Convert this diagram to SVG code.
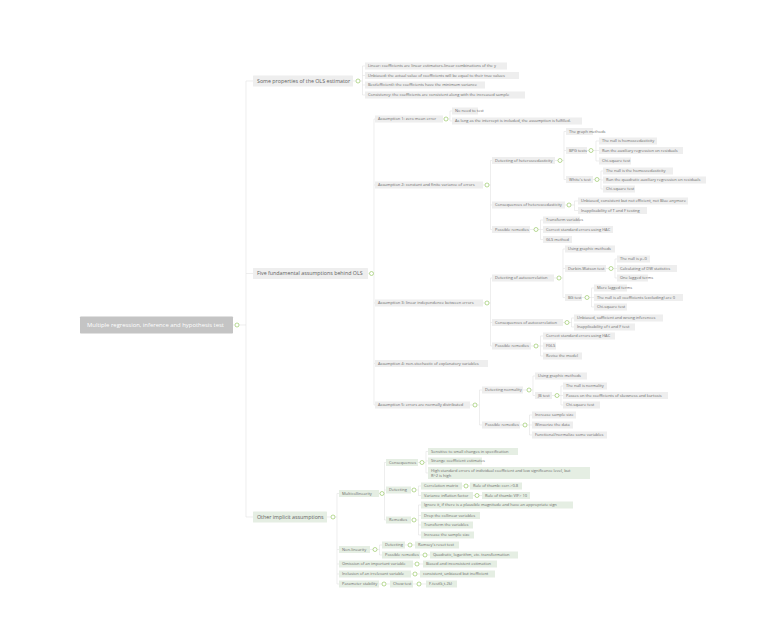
<svg xmlns="http://www.w3.org/2000/svg" width="780" height="621" viewBox="0 0 780 621">
<style>
rect{fill:#eeeeee}
.gr rect{fill:#e5eee3}
text{font-family:"Open Sans","Liberation Sans",sans-serif;font-size:4px;fill:#6a6a6a}
.l1 text{font-size:5.3px;fill:#616161}
.root rect{fill:#c4c4c4}
.root text{font-size:5.9px;fill:#ffffff}
circle{fill:#ffffff;stroke:#8cc152;stroke-width:0.6}
#connectors path{fill:none;stroke:#e2e2e2;stroke-width:0.6}
</style>
<rect x="0" y="0" width="780" height="621" style="fill:#ffffff"/>
<g id="connectors">
<path d="M233 325H235M239 325H246M246 81V517M246 81H253M246 273.5H253M246 517H253"/>
<path d="M353 81H356M360 81H362.5M362.5 66V95M362.5 66H365M362.5 75.5H365M362.5 85H365M362.5 95H365"/>
<path d="M368 273.5H369.5M373.5 273.5H374M374 119V405M374 119H375M374 185H375M374 303H375M374 363.5H375M374 405H375"/>
<path d="M443 119H444M448 119H450M450 111V121M450 111H452M450 121H452"/>
<path d="M483 185H485M489 185H490.5M490.5 160.5V229.5M490.5 160.5H492M490.5 205H492M490.5 229.5H492"/>
<path d="M555 160.5H558M562 160.5H564M564 131.5V179.5M564 131.5H566M564 150.5H566M564 179.5H566"/>
<path d="M587 150.5H589M593 150.5H596M596 141V161M596 141H599M596 150.5H599M596 161H599"/>
<path d="M593 179.5H595M599 179.5H601M601 171V189M601 171H603M601 180H603M601 189H603"/>
<path d="M565 205H567M571 205H574.5M574.5 201V210.5M574.5 201H578M574.5 210.5H578"/>
<path d="M530 229.5H534M538 229.5H540.5M540.5 220V239.5M540.5 220H543M540.5 229.5H543M540.5 239.5H543"/>
<path d="M483 303H485M489 303H490.5M490.5 278V346M490.5 278H492M490.5 322.5H492M490.5 346H492"/>
<path d="M554 278H557M561 278H563M563 249V297.5M563 249H565M563 268.5H565M563 297.5H565"/>
<path d="M606 268.5H609M613 268.5H615M615 259V278M615 259H617M615 268.5H617M615 278H617"/>
<path d="M582 297.5H585M589 297.5H591.5M591.5 288V307M591.5 288H594M591.5 297.5H594M591.5 307H594"/>
<path d="M563 322.5H565M569 322.5H571.5M571.5 318V327M571.5 318H574M571.5 327H574"/>
<path d="M531 346H534M538 346H540.5M540.5 336V356M540.5 336H543M540.5 346H543M540.5 356H543"/>
<path d="M470 405H473M477 405H479.5M479.5 390V425M479.5 390H482M479.5 425H482"/>
<path d="M523 390H527M531 390H533M533 376V395.5M533 376H535M533 395.5H535"/>
<path d="M552 395.5H555M559 395.5H561M561 386V405M561 386H563M561 395.5H563M561 405H563"/>
<path d="M520 425H523M527 425H529.5M529.5 415V435M529.5 415H532M529.5 425H532M529.5 435H532"/>
<path d="M327 517H331M335 517H337M337 493.5V584M337 493.5H339M337 549.5H339M337 564H339M337 574H339M337 584H339"/>
<path d="M379 493.5H380M384 493.5H384.5M384.5 462.5V520M384.5 462.5H386M384.5 490H386M384.5 520H386"/>
<path d="M418 462.5H420M424 462.5H426M426 451.5V473M426 451.5H428M426 461H428M426 473H428"/>
<path d="M411 490H412M416 490H418.5M418.5 486V495.5M418.5 486H421M418.5 495.5H421"/>
<path d="M462 486H464M468 486H470"/>
<path d="M473 495.5H475M479 495.5H482"/>
<path d="M411 520H412M416 520H418.5M418.5 505V535M418.5 505H421M418.5 515.5H421M418.5 525H421M418.5 535H421"/>
<path d="M370 549.5H373M377 549.5H379.5M379.5 545V555M379.5 545H382M379.5 555H382"/>
<path d="M405 545H408M412 545H415"/>
<path d="M420 555H423M427 555H430"/>
<path d="M413 564H415M419 564H423"/>
<path d="M411 574H413M417 574H420"/>
<path d="M379 584H382M386 584H390"/>
<path d="M413 584H417M421 584H426"/>
</g>

<g id="n-root" class="root"><rect x="80" y="316.5" width="153" height="17" rx="0.8"/><text x="87" y="327.1">Multiple regression, inference and hypothesis test</text><circle cx="237" cy="325" r="2"/></g>

<g id="n-props" class="l1"><rect x="253" y="75.5" width="100" height="11" rx="0.6"/><text x="257" y="82.8">Some properties of the OLS estimator</text><circle cx="358" cy="81" r="2"/></g>
<g id="n-p1"><rect x="365" y="62.5" width="142" height="7"/><text x="368" y="67.4">Linear: coefficients are linear estimators-linear combinations of the y</text></g>
<g id="n-p2"><rect x="365" y="72" width="154" height="7"/><text x="368" y="76.9">Unbiased: the actual value of coefficients will be equal to their true values</text></g>
<g id="n-p3"><rect x="365" y="81.5" width="120" height="7"/><text x="368" y="86.4">Best(efficient): the coefficients have the minimum variance</text></g>
<g id="n-p4"><rect x="365" y="91.5" width="160" height="7"/><text x="368" y="96.4">Consistency:  the coefficients are consistent along with the increased sample</text></g>

<g id="n-five" class="l1"><rect x="253" y="268" width="115" height="11" rx="0.6"/><text x="257" y="275.3">Five fundamental assumptions behind OLS</text><circle cx="371.5" cy="273.5" r="2"/></g>

<g id="n-a1"><rect x="375" y="115.5" width="68" height="7"/><text x="378" y="120.4">Assumption 1: zero mean error</text><circle cx="446" cy="119" r="2"/></g>
<g id="n-a1-1"><rect x="452" y="107.5" width="26" height="7"/><text x="455" y="112.4">No need to test</text></g>
<g id="n-a1-2"><rect x="452" y="117.5" width="130" height="7"/><text x="455" y="122.4">As long as the intercept is included, the assumption is fulfilled.</text></g>

<g id="n-a2"><rect x="375" y="181.5" width="108" height="7"/><text x="378" y="186.4">Assumption 2: constant and finite variance of errors</text><circle cx="487" cy="185" r="2"/></g>
<g id="n-dh"><rect x="492" y="157" width="63" height="7"/><text x="495" y="161.9">Detecting of heteroscedasticity</text><circle cx="560" cy="160.5" r="2"/></g>
<g id="n-dh1"><rect x="566" y="128" width="27" height="7"/><text x="569" y="132.9">The graph methods</text></g>
<g id="n-bpg"><rect x="566" y="147" width="21" height="7"/><text x="569" y="151.9">BPG tests</text><circle cx="591" cy="150.5" r="2"/></g>
<g id="n-bpg1"><rect x="599" y="137.5" width="58" height="7"/><text x="602" y="142.4">The null is homoscedasticity</text></g>
<g id="n-bpg2"><rect x="599" y="147" width="84" height="7"/><text x="602" y="151.9">Run the auxiliary regression on residuals</text></g>
<g id="n-bpg3"><rect x="599" y="157.5" width="32" height="7"/><text x="602" y="162.4">Chi-square test</text></g>
<g id="n-white"><rect x="566" y="176" width="27" height="7"/><text x="569" y="180.9">White's test</text><circle cx="597" cy="179.5" r="2"/></g>
<g id="n-w1"><rect x="603" y="167.5" width="70" height="7"/><text x="606" y="172.4">The null is the homoscedasticity</text></g>
<g id="n-w2"><rect x="603" y="176.5" width="103" height="7"/><text x="606" y="181.4">Run the quadratic auxiliary regression on residuals</text></g>
<g id="n-w3"><rect x="603" y="185.5" width="32" height="7"/><text x="606" y="190.4">Chi-square test</text></g>
<g id="n-ch"><rect x="492" y="201.5" width="73" height="7"/><text x="495" y="206.4">Consequences of heteroscedasticity</text><circle cx="569" cy="205" r="2"/></g>
<g id="n-ch1"><rect x="578" y="197.5" width="110" height="7"/><text x="581" y="202.4">Unbiased, consistent but not efficient, not Blue anymore</text></g>
<g id="n-ch2"><rect x="578" y="207" width="69" height="7"/><text x="581" y="211.9">Inapplicability of T and F testing</text></g>
<g id="n-r1"><rect x="492" y="226" width="38" height="7"/><text x="495" y="230.9">Possible remedies</text><circle cx="536" cy="229.5" r="2"/></g>
<g id="n-r1a"><rect x="543" y="216.5" width="37" height="7"/><text x="546" y="221.4">Transform variables</text></g>
<g id="n-r1b"><rect x="543" y="226" width="70" height="7"/><text x="546" y="230.9">Correct standard errors using HAC</text></g>
<g id="n-r1c"><rect x="543" y="236" width="29" height="7"/><text x="546" y="240.9">GLS method</text></g>

<g id="n-a3"><rect x="375" y="299.5" width="108" height="7"/><text x="378" y="304.4">Assumption 3: linear independence between errors</text><circle cx="487" cy="303" r="2"/></g>
<g id="n-da"><rect x="492" y="274.5" width="62" height="7"/><text x="495" y="279.4">Detecting of autocorrelation</text><circle cx="559" cy="278" r="2"/></g>
<g id="n-da1"><rect x="565" y="245.5" width="50" height="7"/><text x="568" y="250.4">Using graphic methods</text></g>
<g id="n-dw"><rect x="565" y="265" width="41" height="7"/><text x="568" y="269.9">Durbin-Watson test</text><circle cx="611" cy="268.5" r="2"/></g>
<g id="n-dw1"><rect x="617" y="255.5" width="33" height="7"/><text x="620" y="260.4">The null is ρ=0</text></g>
<g id="n-dw2"><rect x="617" y="265" width="60" height="7"/><text x="620" y="269.9">Calculating of DW statistics</text></g>
<g id="n-dw3"><rect x="617" y="274.5" width="31" height="7"/><text x="620" y="279.4">One lagged terms</text></g>
<g id="n-bg"><rect x="565" y="294" width="17" height="7"/><text x="568" y="298.9">BG test</text><circle cx="587" cy="297.5" r="2"/></g>
<g id="n-bg1"><rect x="594" y="284.5" width="33" height="7"/><text x="597" y="289.4">More lagged terms</text></g>
<g id="n-bg2"><rect x="594" y="294" width="89" height="7"/><text x="597" y="298.9">The null is all coefficients (excluding) are 0</text></g>
<g id="n-bg3"><rect x="594" y="303.5" width="33" height="7"/><text x="597" y="308.4">Chi-square test</text></g>
<g id="n-ca"><rect x="492" y="319" width="71" height="7"/><text x="495" y="323.9">Consequences of autocorrelation</text><circle cx="567" cy="322.5" r="2"/></g>
<g id="n-ca1"><rect x="574" y="314.5" width="89" height="7"/><text x="577" y="319.4">Unbiased, sufficient and wrong inferences</text></g>
<g id="n-ca2"><rect x="574" y="323.5" width="61" height="7"/><text x="577" y="328.4">Inapplicability of t and F test</text></g>
<g id="n-r2"><rect x="492" y="342.5" width="39" height="7"/><text x="495" y="347.4">Possible remedies</text><circle cx="536" cy="346" r="2"/></g>
<g id="n-r2a"><rect x="543" y="332.5" width="72" height="7"/><text x="546" y="337.4">Correct standard errors using HAC</text></g>
<g id="n-r2b"><rect x="543" y="342.5" width="13" height="7"/><text x="546" y="347.4">FGLS</text></g>
<g id="n-r2c"><rect x="543" y="352.5" width="39" height="7"/><text x="546" y="357.4">Revise the model</text></g>

<g id="n-a4"><rect x="375" y="360" width="113" height="7"/><text x="378" y="364.9">Assumption 4: non-stochastic of explanatory variables</text></g>

<g id="n-a5"><rect x="375" y="401.5" width="95" height="7"/><text x="378" y="406.4">Assumption 5: errors are normally distributed</text><circle cx="475" cy="405" r="2"/></g>
<g id="n-dn"><rect x="482" y="386.5" width="41" height="7"/><text x="485" y="391.4">Detecting normality</text><circle cx="529" cy="390" r="2"/></g>
<g id="n-dn1"><rect x="535" y="372.5" width="52" height="7"/><text x="538" y="377.4">Using graphic methods</text></g>
<g id="n-jb"><rect x="535" y="392" width="17" height="7"/><text x="538" y="396.9">JB test</text><circle cx="557" cy="395.5" r="2"/></g>
<g id="n-jb1"><rect x="563" y="382.5" width="44" height="7"/><text x="566" y="387.4">The null is normality</text></g>
<g id="n-jb2"><rect x="563" y="392" width="105" height="7"/><text x="566" y="396.9">Passes on the coefficients of skewness and kurtosis</text></g>
<g id="n-jb3"><rect x="563" y="401.5" width="37" height="7"/><text x="566" y="406.4">Chi-square test</text></g>
<g id="n-r3"><rect x="482" y="421.5" width="38" height="7"/><text x="485" y="426.4">Possible remedies</text><circle cx="525" cy="425" r="2"/></g>
<g id="n-r3a"><rect x="532" y="411.5" width="44" height="7"/><text x="535" y="416.4">Increase sample size</text></g>
<g id="n-r3b"><rect x="532" y="421.5" width="41" height="7"/><text x="535" y="426.4">Winsorize the data</text></g>
<g id="n-r3c"><rect x="532" y="431.5" width="75" height="7"/><text x="535" y="436.4">Functional/normalize some variables</text></g>

<g id="n-other" class="l1 gr"><rect x="253" y="511.5" width="74" height="11" rx="0.6"/><text x="257" y="518.8">Other implicit assumptions</text><circle cx="333" cy="517" r="2"/></g>
<g class="gr">
<g id="n-mc"><rect x="339" y="490" width="40" height="7"/><text x="342" y="494.9">Multicollinearity</text><circle cx="382" cy="493.5" r="2"/></g>
<g id="n-mcc"><rect x="386" y="459" width="32" height="7"/><text x="389" y="463.9">Consequences</text><circle cx="422" cy="462.5" r="2"/></g>
<g id="n-mcc1"><rect x="428" y="448" width="90" height="7"/><text x="431" y="452.9">Sensitive to small changes in specification</text></g>
<g id="n-mcc2"><rect x="428" y="457.5" width="54" height="7"/><text x="431" y="462.4">Strange coefficient estimates</text></g>
<g id="n-mcc3"><rect x="428" y="467" width="162" height="12"/><text x="431" y="471.6">High standard errors of individual coefficient and low significance level, but</text><text x="431" y="476.6">R^2 is high</text></g>
<g id="n-mcd"><rect x="386" y="486.5" width="25" height="7"/><text x="389" y="491.4">Detecting</text><circle cx="414" cy="490" r="2"/></g>
<g id="n-cm"><rect x="421" y="482.5" width="41" height="7"/><text x="424" y="487.4">Correlation matrix</text><circle cx="466" cy="486" r="2"/></g>
<g id="n-cm1"><rect x="470" y="482.5" width="52" height="7"/><text x="473" y="487.4">Rule of thumb: corr.&gt;0.8</text></g>
<g id="n-vif"><rect x="421" y="492" width="52" height="7"/><text x="424" y="496.9">Variance inflation factor</text><circle cx="477" cy="495.5" r="2"/></g>
<g id="n-vif1"><rect x="482" y="492" width="48" height="7"/><text x="485" y="496.9">Rule of thumb: VIF&gt; 10</text></g>
<g id="n-mcr"><rect x="386" y="516.5" width="25" height="7"/><text x="389" y="521.4">Remedies</text><circle cx="414" cy="520" r="2"/></g>
<g id="n-mcr1"><rect x="421" y="501.5" width="152" height="7"/><text x="424" y="506.4">Ignore it, if there is a plausible magnitude  and have an appropriate sign</text></g>
<g id="n-mcr2"><rect x="421" y="512" width="59" height="7"/><text x="424" y="516.9">Drop the collinear variables</text></g>
<g id="n-mcr3"><rect x="421" y="521.5" width="52" height="7"/><text x="424" y="526.4">Transform the variables</text></g>
<g id="n-mcr4"><rect x="421" y="531.5" width="53" height="7"/><text x="424" y="536.4">Increase the sample size</text></g>
<g id="n-nl"><rect x="339" y="546" width="31" height="7"/><text x="342" y="550.9">Non-linearity</text><circle cx="375" cy="549.5" r="2"/></g>
<g id="n-nld"><rect x="382" y="541.5" width="23" height="7"/><text x="385" y="546.4">Detecting</text><circle cx="410" cy="545" r="2"/></g>
<g id="n-nld1"><rect x="415" y="541.5" width="44" height="7"/><text x="418" y="546.4">Ramsey's reset test</text></g>
<g id="n-nlr"><rect x="382" y="551.5" width="38" height="7"/><text x="385" y="556.4">Possible remedies</text><circle cx="425" cy="555" r="2"/></g>
<g id="n-nlr1"><rect x="430" y="551.5" width="88" height="7"/><text x="433" y="556.4">Quadratic, logarithm, etc. transformation</text></g>
<g id="n-om"><rect x="339" y="560.5" width="74" height="7"/><text x="342" y="565.4">Omission of an important variable</text><circle cx="417" cy="564" r="2"/></g>
<g id="n-om1"><rect x="423" y="560.5" width="74" height="7"/><text x="426" y="565.4">Biased and inconsistent estimation</text></g>
<g id="n-in"><rect x="339" y="570.5" width="72" height="7"/><text x="342" y="575.4">Inclusion of an irrelevant variable</text><circle cx="415" cy="574" r="2"/></g>
<g id="n-in1"><rect x="420" y="570.5" width="75" height="7"/><text x="423" y="575.4">consistent, unbiased but inefficient</text></g>
<g id="n-ps"><rect x="339" y="580.5" width="40" height="7"/><text x="342" y="585.4">Parameter stability</text><circle cx="384" cy="584" r="2"/></g>
<g id="n-chow"><rect x="390" y="580.5" width="23" height="7"/><text x="393" y="585.4">Chow test</text><circle cx="419" cy="584" r="2"/></g>
<g id="n-chow1"><rect x="426" y="580.5" width="31" height="7"/><text x="429" y="585.4">F-test(k,t-2k)</text></g>
</g>
</svg>
